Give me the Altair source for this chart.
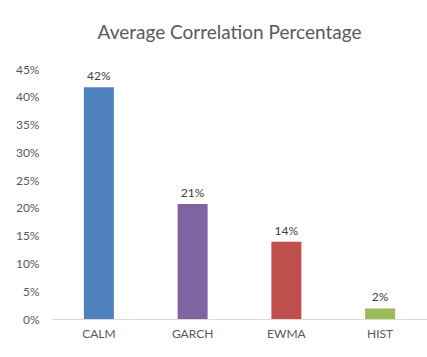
import altair as alt
import pandas as pd

categories = ["CALM", "GARCH", "EWMA", "HIST"]
values = [0.417, 0.207, 0.139, 0.019]
labels = ["42%", "21%", "14%", "2%"]
colors = ["#4f81bd", "#8064a2", "#c0504d", "#9bbb59"]
ticks = [0.0, 0.05, 0.10, 0.15, 0.20, 0.25, 0.30, 0.35, 0.40, 0.45]

df = pd.DataFrame({"cat": categories, "val": values, "lab": labels})

x = alt.X("cat:N", sort=categories, title=None,
          scale=alt.Scale(paddingInner=0.68, paddingOuter=0.34),
          axis=alt.Axis(labelAngle=0, ticks=False, domainColor="#d9d9d9",
                        labelColor="#595959", labelFont="Lato", labelFontSize=12,
                        labelPadding=9))
y = alt.Y("val:Q", title=None,
          scale=alt.Scale(domain=[0, 0.45], nice=False),
          axis=alt.Axis(values=ticks, format=".0%",
                        grid=False, domain=False, ticks=False,
                        labelOverlap=False, labelFlush=False,
                        labelColor="#595959", labelFont="Lato", labelFontSize=12,
                        labelPadding=13))

bars = alt.Chart(df).mark_bar().encode(
    x=x, y=y,
    color=alt.Color("cat:N", scale=alt.Scale(domain=categories, range=colors), legend=None),
)
text = alt.Chart(df).mark_text(dy=-11, font="Lato", fontSize=12, color="#404040").encode(
    x=x, y=y, text="lab:N"
)

chart = (bars + text).properties(
    width=375, height=250,
    title=alt.TitleParams("Average Correlation Percentage", font="Lato", fontSize=19,
                          fontWeight="normal", color="#595959", dx=-10, offset=20),
    autosize=alt.AutoSizeParams(type="none"),
    padding={"left": 52, "top": 69, "right": 0, "bottom": 38},
).configure_view(stroke=None)

chart.save("out.html", embed_options={"renderer": "svg", "actions": False})
